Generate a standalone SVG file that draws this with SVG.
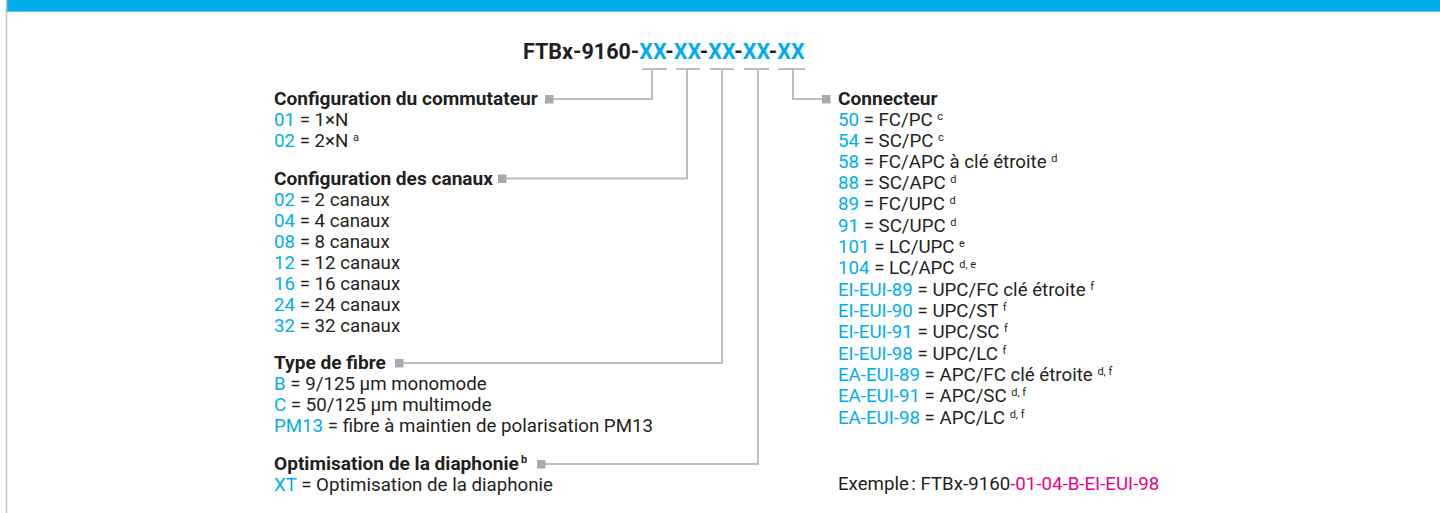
<svg xmlns="http://www.w3.org/2000/svg" width="1440" height="513" viewBox="0 0 1440 513">
<style>
text{font-family:Roboto,"Liberation Sans",Arial,sans-serif;fill:#231f20;font-size:18.7px}
.h{font-weight:bold;font-size:19.1px}
.b{fill:#00aeef}
.m{fill:#ec008c}
.s{font-size:11px;font-weight:normal}
.hs{font-size:11px}
.ln{fill:none;stroke:#bcbec0;stroke-width:2}
.sq{fill:#a7a9ac}
</style>
<rect x="0" y="0" width="1440" height="513" fill="#ffffff"/>
<rect x="7" y="0" width="1433" height="11" fill="#00aeef"/>
<rect x="7" y="11" width="1433" height="1" fill="#5cc8f2"/>
<line x1="6.5" y1="0" x2="6.5" y2="513" stroke="#c2c2c4" stroke-width="1.5"/>

<g id="title">
<text x="523" y="59" class="h" style="font-size:21.5px">FTBx-9160-<tspan class="b">XX</tspan>-<tspan class="b">XX</tspan>-<tspan class="b">XX</tspan>-<tspan class="b">XX</tspan>-<tspan class="b">XX</tspan></text>
</g>

<g id="connectors">
<path class="ln" d="M642,69 H667 M652,69 V99 H550"/>
<path class="ln" d="M676,69 H700 M687,69 V178.5 H503"/>
<path class="ln" d="M710,69 H734 M722,69 V363 H400"/>
<path class="ln" d="M744,69 H769 M758,69 V464 H542"/>
<path class="ln" d="M778,69 H805 M793,69 V99 H825"/>
<rect class="sq" x="545" y="95" width="8.5" height="8.5"/>
<rect class="sq" x="498" y="174.5" width="8.5" height="8.5"/>
<rect class="sq" x="395" y="359" width="8.5" height="8.5"/>
<rect class="sq" x="537" y="460" width="8.5" height="8.5"/>
<rect class="sq" x="822" y="95" width="8.5" height="8.5"/>
</g>

<g id="commutateur">
<text x="274" y="105" class="h">Configuration du commutateur</text>
<text x="274" y="126"><tspan class="b">01</tspan> = 1×N</text>
<text x="274" y="147"><tspan class="b">02</tspan> = 2×N <tspan class="s" dy="-6">a</tspan></text>
</g>

<g id="canaux">
<text x="274" y="184.5" class="h">Configuration des canaux</text>
<text x="274" y="205.5"><tspan class="b">02</tspan> = 2 canaux</text>
<text x="274" y="226.5"><tspan class="b">04</tspan> = 4 canaux</text>
<text x="274" y="247.5"><tspan class="b">08</tspan> = 8 canaux</text>
<text x="274" y="268.5"><tspan class="b">12</tspan> = 12 canaux</text>
<text x="274" y="289.5"><tspan class="b">16</tspan> = 16 canaux</text>
<text x="274" y="310.5"><tspan class="b">24</tspan> = 24 canaux</text>
<text x="274" y="331.5"><tspan class="b">32</tspan> = 32 canaux</text>
</g>

<g id="fibre">
<text x="274" y="368.5" class="h">Type de fibre</text>
<text x="274" y="389.5"><tspan class="b">B</tspan> = 9/125 µm monomode</text>
<text x="274" y="410.5"><tspan class="b">C</tspan> = 50/125 µm multimode</text>
<text x="274" y="431.5"><tspan class="b">PM13</tspan> = fibre à maintien de polarisation PM13</text>
</g>

<g id="diaphonie">
<text x="274" y="469.5" class="h">Optimisation de la diaphonie<tspan class="hs" dx="2" dy="-7">b</tspan></text>
<text x="274" y="490.5"><tspan class="b">XT</tspan> = Optimisation de la diaphonie</text>
</g>

<g id="connecteur">
<text x="838" y="105" class="h">Connecteur</text>
<text x="838" y="126"><tspan class="b">50</tspan> = FC/PC <tspan class="s" dy="-6">c</tspan></text>
<text x="838" y="147"><tspan class="b">54</tspan> = SC/PC <tspan class="s" dy="-6">c</tspan></text>
<text x="838" y="168"><tspan class="b">58</tspan> = FC/APC à clé étroite <tspan class="s" dy="-6">d</tspan></text>
<text x="838" y="189"><tspan class="b">88</tspan> = SC/APC <tspan class="s" dy="-6">d</tspan></text>
<text x="838" y="210"><tspan class="b">89</tspan> = FC/UPC <tspan class="s" dy="-6">d</tspan></text>
<text x="838" y="231.5"><tspan class="b">91</tspan> = SC/UPC <tspan class="s" dy="-6">d</tspan></text>
<text x="838" y="253"><tspan class="b">101</tspan> = LC/UPC <tspan class="s" dy="-6">e</tspan></text>
<text x="838" y="274"><tspan class="b">104</tspan> = LC/APC <tspan class="s" dy="-6">d, e</tspan></text>
<text x="838" y="295.5"><tspan class="b">EI-EUI-89</tspan> = UPC/FC clé étroite <tspan class="s" dy="-6">f</tspan></text>
<text x="838" y="317"><tspan class="b">EI-EUI-90</tspan> = UPC/ST <tspan class="s" dy="-6">f</tspan></text>
<text x="838" y="338"><tspan class="b">EI-EUI-91</tspan> = UPC/SC <tspan class="s" dy="-6">f</tspan></text>
<text x="838" y="359.5"><tspan class="b">EI-EUI-98</tspan> = UPC/LC <tspan class="s" dy="-6">f</tspan></text>
<text x="838" y="381"><tspan class="b">EA-EUI-89</tspan> = APC/FC clé étroite <tspan class="s" dy="-6">d, f</tspan></text>
<text x="838" y="402"><tspan class="b">EA-EUI-91</tspan> = APC/SC <tspan class="s" dy="-6">d, f</tspan></text>
<text x="838" y="423.5"><tspan class="b">EA-EUI-98</tspan> = APC/LC <tspan class="s" dy="-6">d, f</tspan></text>
</g>

<g id="exemple">
<text x="838" y="490">Exemple&#8239;: FTBx-9160<tspan class="m">-01-04-B-EI-EUI-98</tspan></text>
</g>
</svg>
